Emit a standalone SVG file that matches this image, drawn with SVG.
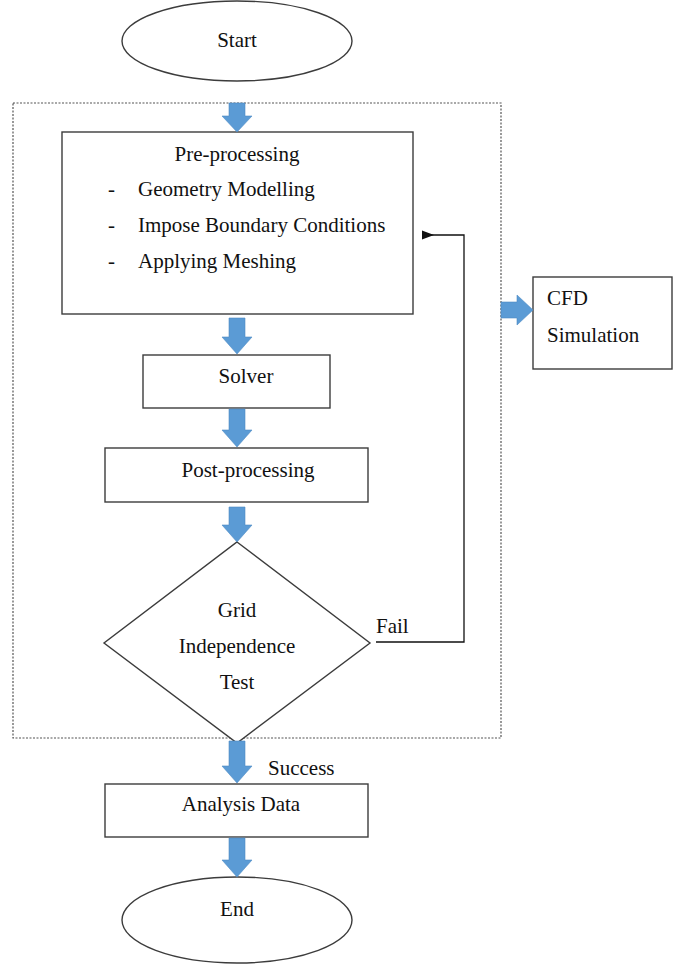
<svg xmlns="http://www.w3.org/2000/svg" width="673" height="966" viewBox="0 0 673 966">
<style>
.box{fill:#fff;stroke:#3c3c3c;stroke-width:1.4}
.t{font-family:'Liberation Serif','Times New Roman','DejaVu Serif',serif;font-size:21px;fill:#111}
.c{text-anchor:middle}
.blk{fill:#5b9bd5;stroke:#4f8cc4;stroke-width:0.6}
.ln{fill:none;stroke:#111;stroke-width:1.3}
</style>
<defs>
<marker id="ah" markerWidth="12" markerHeight="10" refX="11" refY="5" orient="auto" markerUnits="userSpaceOnUse">
<path d="M0,5 L12,0.5 L12,9.5 Z" fill="#111"/>
</marker>
</defs>
<rect x="13" y="103" width="488" height="635" fill="none" stroke="#555" stroke-width="1.2" stroke-dasharray="2,1.5"/>
<g id="start">
<ellipse class="box" cx="237" cy="41" rx="115" ry="40"/>
<text class="t c" x="237" y="47" font-family="Liberation Serif, serif">Start</text>
</g>
<g id="preprocessing" font-family="Liberation Serif, serif">
<rect class="box" x="62" y="132" width="351" height="182"/>
<text class="t c" x="237" y="161">Pre-processing</text>
<text class="t" x="108" y="196">-</text>
<text class="t" x="138" y="196">Geometry Modelling</text>
<text class="t" x="108" y="232">-</text>
<text class="t" x="138" y="232">Impose Boundary Conditions</text>
<text class="t" x="108" y="268">-</text>
<text class="t" x="138" y="268">Applying Meshing</text>
</g>
<g id="solver">
<rect class="box" x="143" y="355" width="187" height="53"/>
<text class="t c" x="246" y="383">Solver</text>
</g>
<g id="postprocessing">
<rect class="box" x="105" y="448" width="263" height="54"/>
<text class="t c" x="248" y="477">Post-processing</text>
</g>
<g id="gridtest">
<polygon class="box" points="237,542 370,643 237,743 104,643"/>
<text class="t c" x="237" y="617">Grid</text>
<text class="t c" x="237" y="653">Independence</text>
<text class="t c" x="237" y="689">Test</text>
</g>
<g id="analysis">
<rect class="box" x="105" y="784" width="263" height="53"/>
<text class="t c" x="241" y="811">Analysis Data</text>
</g>
<g id="end">
<ellipse class="box" cx="237" cy="920" rx="115" ry="43"/>
<text class="t c" x="237" y="916">End</text>
</g>
<g id="cfd">
<rect class="box" x="533" y="277" width="139" height="92"/>
<text class="t" x="547" y="305">CFD</text>
<text class="t" x="547" y="342">Simulation</text>
</g>
<g id="connectors">
<path class="blk" d="M229,103 H245 V116 H252 L237,132 L222,116 H229 Z"/>
<path class="blk" d="M229,318 H245 V337 H252 L237,354 L222,337 H229 Z"/>
<path class="blk" d="M229,409 H245 V430 H252 L237,447 L222,430 H229 Z"/>
<path class="blk" d="M229,507 H245 V525 H252 L237,542 L222,525 H229 Z"/>
<path class="blk" d="M229,741 H245 V766 H252 L237,783 L222,766 H229 Z"/>
<path class="blk" d="M229,838 H245 V860 H252 L237,877 L222,860 H229 Z"/>
<path class="blk" d="M501,302 H517 V295 L533,310 L517,325 V318 H501 Z"/>
<path class="ln" d="M376,642 H464 V235 H423" marker-end="url(#ah)"/>
<text class="t" x="376" y="633">Fail</text>
<text class="t" x="268" y="775">Success</text>
</g>
</svg>
